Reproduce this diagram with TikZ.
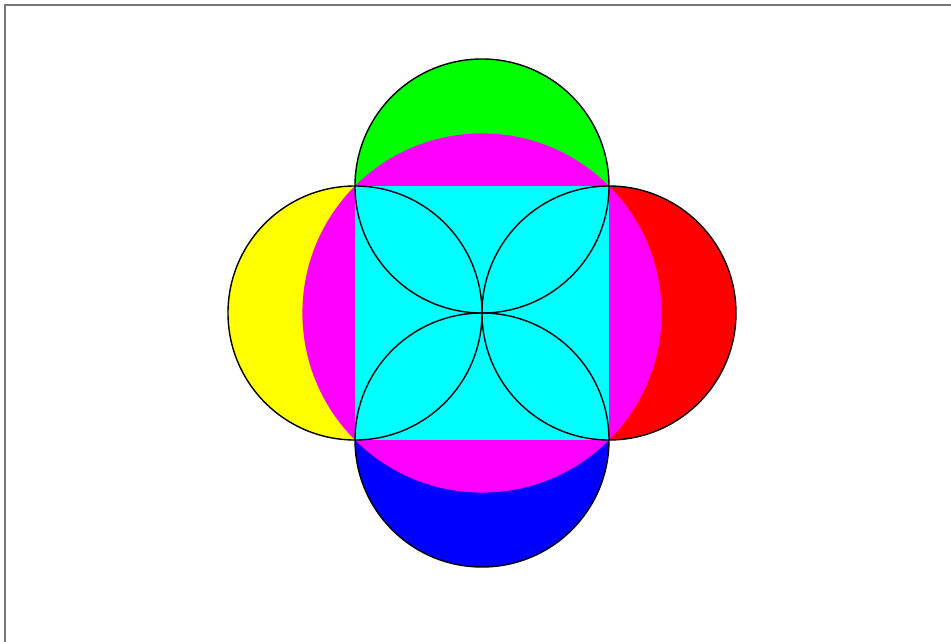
\documentclass[tikz,border=0pt]{standalone}
\definecolor{cya}{RGB}{0,255,255}
\definecolor{mag}{RGB}{255,0,255}
\definecolor{yel}{RGB}{255,255,0}
\definecolor{gre}{RGB}{0,255,0}
\definecolor{re}{RGB}{255,0,0}
\definecolor{blu}{RGB}{0,0,255}
\definecolor{framegray}{RGB}{120,120,120}
\begin{document}
\begin{tikzpicture}[x=1pt,y=-1pt,
  outline/.style={draw=black,line width=1.4pt},
  frameline/.style={draw=framegray,line width=1.8pt}]
\useasboundingbox (0,0) rectangle (951,642);
\fill[white] (0,0) rectangle (951,642);
\draw[frameline] (5,642) -- (5,5) -- (951,5);
\coordinate (c) at (482,313);
\coordinate (t) at (482,186);
\coordinate (b) at (482,440);
\coordinate (l) at (355,313);
\coordinate (r) at (609,313);
\fill[yel] (l) circle (127);
\fill[gre] (t) circle (127);
\fill[re] (r) circle (127);
\fill[blu] (b) circle (127);
\fill[mag] (c) circle (179.6);
\fill[cya] (355,186) rectangle (609,440);
\draw[outline] (l) circle (127);
\draw[outline] (t) circle (127);
\draw[outline] (r) circle (127);
\draw[outline] (b) circle (127);
\end{tikzpicture}
\end{document}
